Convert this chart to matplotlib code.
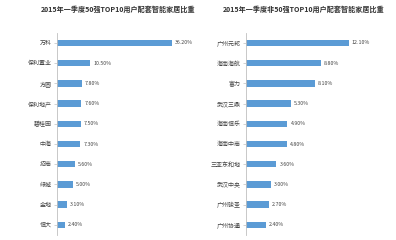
import matplotlib
matplotlib.use("Agg")
import matplotlib.pyplot as plt

plt.rcParams["font.family"] = ["Noto Sans CJK SC", "DejaVu Sans"]

BAR_COLOR = "#5b9bd5"

left_title = "2015年一季度50强TOP10用户配套智能家居比重"
left_names = ["万科", "保利置业", "方圆", "保利地产", "碧桂园", "中海", "招商", "绿城", "金地", "恒大"]
left_values = [36.2, 10.5, 7.8, 7.6, 7.5, 7.3, 5.6, 5.0, 3.1, 2.4]

right_title = "2015年一季度非50强TOP10用户配套智能家居比重"
right_names = ["广州元邦", "海南海航", "富力", "武汉三鼎", "海南恒乐", "海南中商",
               "三亚东和地", "武汉中央", "广州骏圣", "广州协通"]
right_values = [12.1, 8.8, 8.1, 5.3, 4.9, 4.8, 3.6, 3.0, 2.7, 2.4]


def draw_panel(ax, names, values, xmax, title, title_x):
    y = range(len(names))
    ax.barh(y, values, height=0.32, color=BAR_COLOR)
    ax.set_xlim(0, xmax)
    ax.set_ylim(len(names) - 0.5, -0.5)
    ax.set_yticks(list(y))
    ax.set_yticklabels(names, fontsize=4.3, color="#444444")
    ax.set_xticks([])
    for s in ["top", "right", "bottom"]:
        ax.spines[s].set_visible(False)
    ax.spines["left"].set_color("#bfbfbf")
    ax.spines["left"].set_linewidth(0.6)
    ax.tick_params(axis="y", length=2, width=0.5, color="#bfbfbf", pad=2)
    for i, v in enumerate(values):
        ax.text(v + xmax * 0.025, i, f"{v:.2f}%", va="center", ha="left",
                fontsize=3.8, color="#444444")
    fig.text(title_x, 0.96, title, ha="center", va="center", fontsize=5.1,
             fontweight="bold", color="#333333")


fig = plt.figure(figsize=(3.96, 2.4), dpi=100)
ax1 = fig.add_axes([0.144, 0.021, 0.32, 0.842])
ax2 = fig.add_axes([0.621, 0.021, 0.30, 0.842])

draw_panel(ax1, left_names, left_values, 40, left_title, 0.298)
draw_panel(ax2, right_names, right_values, 14, right_title, 0.766)

fig.savefig("out.png", dpi=100, facecolor="white")
